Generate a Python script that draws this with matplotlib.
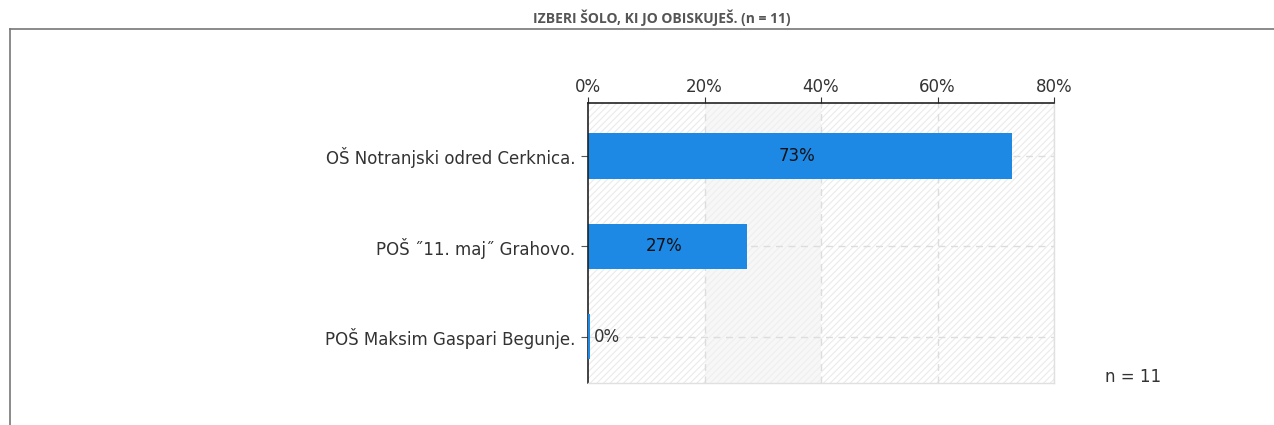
import matplotlib.pyplot as plt
from matplotlib.lines import Line2D
from matplotlib.patches import Rectangle

# data
title = "IZBERI ŠOLO, KI JO OBISKUJEŠ. (n = 11)"
schools = ["OŠ Notranjski odred Cerknica.",
           "POŠ ˝11. maj˝ Grahovo.",
           "POŠ Maksim Gaspari Begunje."]
shares = [72.73, 27.27, 0.0]
share_labels = ["73%", "27%", "0%"]
xticks = [0, 20, 40, 60, 80]
n_text = "n = 11"

blue = "#1e88e5"
txt = "#333333"

plt.rcParams["font.family"] = ["DejaVu Sans"]
plt.rcParams["hatch.linewidth"] = 0.8

fig = plt.figure(figsize=(12.74, 4.25), dpi=100)
fig.patch.set_facecolor("white")

# outer frame
fig.add_artist(Line2D([10/1274, 1], [1 - 29/425, 1 - 29/425], color="#777777", lw=1.2))
fig.add_artist(Line2D([10/1274, 10/1274], [0, 1 - 29/425], color="#777777", lw=1.2))
fig.text(662/1274, 1 - 18/425, title, ha="center", va="center", fontsize=10,
         fontweight="bold", color="#555555", family="Open Sans")

ax = fig.add_axes([588/1274, 1 - 383/425, 466/1274, 280/425])
ax.set_xlim(0, 80)
ax.set_ylim(2.51, -0.585)

# background: hatch plus one light band
ax.add_patch(Rectangle((0, -0.585), 80, 3.095, facecolor="white", edgecolor="#ebebeb",
                       hatch="/////", lw=0, zorder=0))
ax.axvspan(20, 40, color="#f2f2f2", alpha=0.6, lw=0, zorder=0.5)
for x in xticks[1:]:
    ax.axvline(x, color="#dddddd", lw=1, ls=(0, (5, 4)), zorder=1)
for i in range(len(schools)):
    ax.axhline(i, color="#dddddd", lw=1, ls=(0, (5, 4)), zorder=1)

y = list(range(len(schools)))
ax.barh(y, shares, height=0.5, color=blue, zorder=2)
ax.barh([2], [0.4], height=0.5, color=blue, zorder=4, clip_on=False)

for i, (v, lab) in enumerate(zip(shares, share_labels)):
    if v > 5:
        ax.text(v / 2 - 0.5, i, lab, ha="center", va="center", fontsize=12, color="#111111",
                zorder=3)
    else:
        ax.text(v + 1.0, i, lab, ha="left", va="center", fontsize=12, color=txt, zorder=3)

ax.xaxis.tick_top()
ax.set_xticks(xticks)
ax.set_xticklabels([f"{t}%" for t in xticks], fontsize=12, color=txt)
ax.set_yticks(y)
ax.set_yticklabels(schools, fontsize=12, color=txt)
ax.tick_params(axis="x", length=4.5, color="#333333", pad=0.5)
ax.tick_params(axis="y", length=5, color="#555555", pad=4)

for s in ("top", "left"):
    ax.spines[s].set_color("#222222")
    ax.spines[s].set_linewidth(1.2)
for s in ("right", "bottom"):
    ax.spines[s].set_color("#e0e0e0")
    ax.spines[s].set_linewidth(1)

fig.text(1105/1274, 1 - 377/425, n_text, ha="left", va="center", fontsize=12, color=txt)

fig.savefig("out.png", dpi=100)
